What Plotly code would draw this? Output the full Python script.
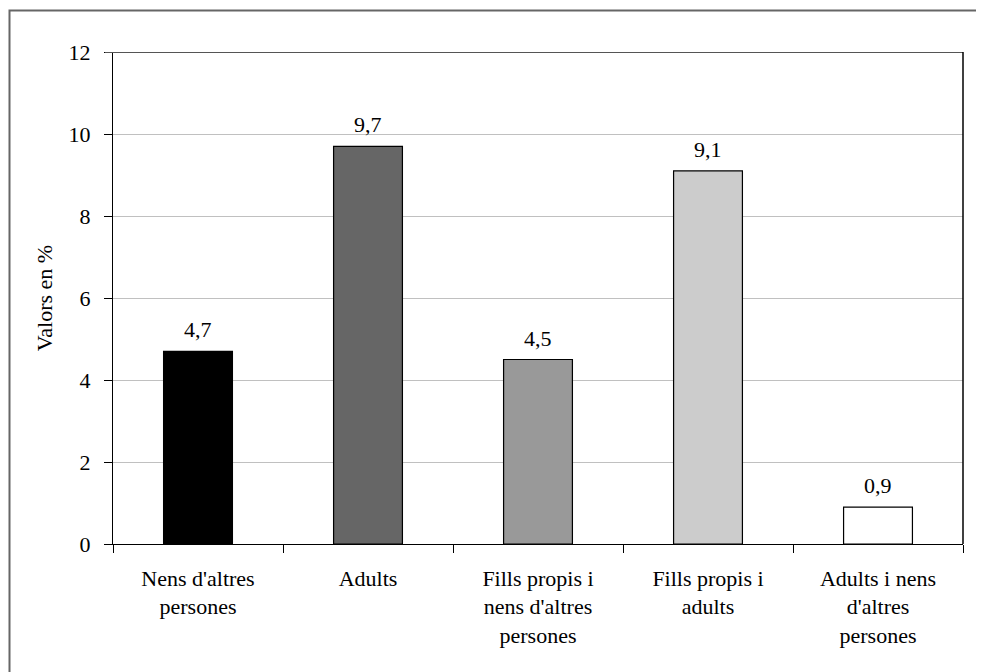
import plotly.graph_objects as go

categories = [
    "Nens d'altres<br>persones",
    "Adults",
    "Fills propis i<br>nens d'altres<br>persones",
    "Fills propis i<br>adults",
    "Adults i nens<br>d'altres<br>persones",
]
values = [4.7, 9.7, 4.5, 9.1, 0.9]
bar_colors = ["#000000", "#666666", "#999999", "#cccccc", "#ffffff"]
y_ticks = [0, 2, 4, 6, 8, 10, 12]

FONT = "Liberation Serif, Times New Roman, serif"
FS = 22

fig = go.Figure()
fig.add_trace(go.Bar(
    x=categories,
    y=values,
    marker=dict(color=bar_colors, line=dict(color="#000000", width=1.2)),
    width=0.405,
    hoverinfo="skip",
))

for c, v in zip(categories, values):
    fig.add_annotation(
        x=c, y=v, xref="x", yref="y",
        text=f"{v:.1f}".replace(".", ","),
        showarrow=False, yanchor="bottom", yshift=7,
        font=dict(family=FONT, size=FS, color="#000000"),
    )

# top border of plot area (grey) and right border (black)
fig.add_shape(type="line", xref="paper", yref="y", x0=-8/850, x1=1, y0=12, y1=12,
              line=dict(color="#555555", width=2.2))
fig.add_shape(type="line", xref="paper", yref="paper", x0=1, x1=1, y0=0, y1=1,
              line=dict(color="#000000", width=1.5))
# outer frame (top and left visible)
fig.add_shape(type="rect", xref="paper", yref="paper",
              x0=(9.5 - 113) / 850, x1=1.3, y0=-0.5, y1=(544 - 10.5) / 492,
              line=dict(color="#666666", width=2))

fig.update_layout(
    width=984, height=672,
    margin=dict(l=105, r=29, t=44, b=136),
    paper_bgcolor="#ffffff", plot_bgcolor="#ffffff",
    font=dict(family=FONT, size=FS, color="#000000"),
    showlegend=False,
    xaxis=dict(
        type="category",
        tickson="boundaries",
        ticks="outside", ticklen=8, tickcolor="#000000", tickwidth=1.2,
        showline=True, linecolor="#000000", linewidth=1.2,
        showgrid=False,
        ticklabelstandoff=14,
        tickfont=dict(family=FONT, size=FS, color="#000000"),
    ),
    yaxis=dict(
        range=[0, 12],
        tickvals=y_ticks,
        ticktext=[str(t) for t in y_ticks],
        ticks="outside", ticklen=8, tickcolor="#000000", tickwidth=1.2,
        showline=True, linecolor="#000000", linewidth=1.2,
        showgrid=True, gridcolor="#c0c0c0", gridwidth=1.2,
        zeroline=False,
        ticklabelstandoff=9,
        title=dict(text="Valors en %", font=dict(family=FONT, size=FS, color="#000000"), standoff=9),
        tickfont=dict(family=FONT, size=FS, color="#000000"),
    ),
)

fig.write_html("out.html")
